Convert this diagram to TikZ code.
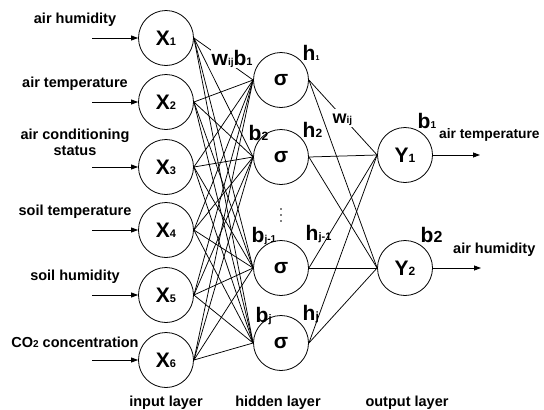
\documentclass[tikz,border=0pt]{standalone}
\usepackage{fontspec}
\setmainfont{Liberation Sans}
\usetikzlibrary{arrows.meta}
\newcommand\fs[1]{\fontsize{#1}{#1}\selectfont}
\newcommand\subt[2]{{\fs{#1}#2}}
\begin{document}
\begin{tikzpicture}[x=1pt,y=-1pt,
  neuron/.style={circle,draw,line width=0.8pt,minimum size=55pt,inner sep=0pt,fill=white,font=\bfseries\fs{21}},
  conn/.style={line width=0.75pt},
  inarrow/.style={line width=0.8pt,-{Triangle[length=7pt,width=5pt]}},
  inlabel/.style={font=\bfseries\fs{14.5},inner sep=0pt,align=center},
  wlabel/.style={font=\bfseries\fs{21},inner sep=0.5pt,anchor=base west},
  dot/.style={circle,fill,inner sep=0pt,minimum size=1.6pt}]
\useasboundingbox (0,0) rectangle (544,410);
% input layer
\foreach \i/\y in {1/38,2/102,3/167,4/230,5/295,6/360}{
  \node[neuron] (x\i) at (166,\y) {X\subt{11}{\i}};
  \coordinate (a\i) at (92,\y);
  \draw[inarrow] (a\i) -- (x\i.west);
}
% hidden layer
\foreach \j/\y in {1/80,2/157,3/268,4/343}{
  \node[neuron] (h\j) at (281,\y) {σ};
}
% output layer
\node[neuron] (y1) at (405,155) {Y\subt{12}{1}};
\node[neuron] (y2) at (405,268) {Y\subt{12}{2}};
% connections
\foreach \i in {1,...,6}{\foreach \j in {1,...,4}{\draw[conn] (x\i.east) -- (h\j.west);}}
\foreach \j in {1,...,4}{\foreach \k in {1,2}{\draw[conn] (h\j.east) -- (y\k.west);}}
% output arrows
\coordinate (o1) at (480,155);
\coordinate (o2) at (481,268);
\draw[inarrow] (y1.east) -- (o1);
\draw[inarrow] (y2.east) -- (o2);
% input labels
\node[inlabel] (l1) at (75,20) {air humidity};
\node[inlabel] (l2) at (75,84) {air temperature};
\node[inlabel,text depth=0pt] (l3) at (75,142) {air conditioning\\[1pt]status};
\node[inlabel] (l4) at (75,212) {soil temperature};
\node[inlabel] (l5) at (75,277) {soil humidity};
\node[inlabel] (l6) at (75,342) {CO\subt{10}{2} concentration};
% output labels
\node[inlabel,anchor=west,font=\bfseries\fs{13.8}] (r1) at (439,135) {air temperature};
\node[inlabel,anchor=west] (r2) at (453,250) {air humidity};
% layer labels
\node[inlabel] (b1l) at (166,403) {input layer};
\node[inlabel] (b2l) at (278,403) {hidden layer};
\node[inlabel] (b3l) at (407,403) {output layer};
% weight / bias labels
\node[wlabel,fill=white] (wb1) at (211,65) {w\subt{10}{ij}b\subt{11}{1}};
\node[wlabel] (hl1) at (302,60) {h\subt{7}{1}};
\node[wlabel] (bl2) at (248,140) {b\subt{12}{2}};
\node[wlabel] (hl2) at (302,137) {h\subt{12}{2}};
\node[wlabel] (bl3) at (251,242) {b\subt{10}{j-1}};
\node[wlabel] (hl3) at (305,240) {h\subt{11}{j-1}};
\node[wlabel] (bl4) at (255,322) {b\subt{11}{j}};
\node[wlabel] (hl4) at (302,320) {h\subt{12}{j}};
\node[wlabel,fill=white,font=\bfseries\fs{18}] (w2) at (332,123) {\vphantom{b}w\subt{10}{ij}\vphantom{g}};
\node[wlabel] (ob1) at (417,128) {b\subt{10}{1}};
\node[wlabel] (ob2) at (420,242) {b\subt{16}{2}};
% vertical dots
\node[dot] (d1) at (281,209) {};
\node[dot] (d2) at (281,215) {};
\node[dot] (d3) at (281,221) {};
\end{tikzpicture}
\end{document}
